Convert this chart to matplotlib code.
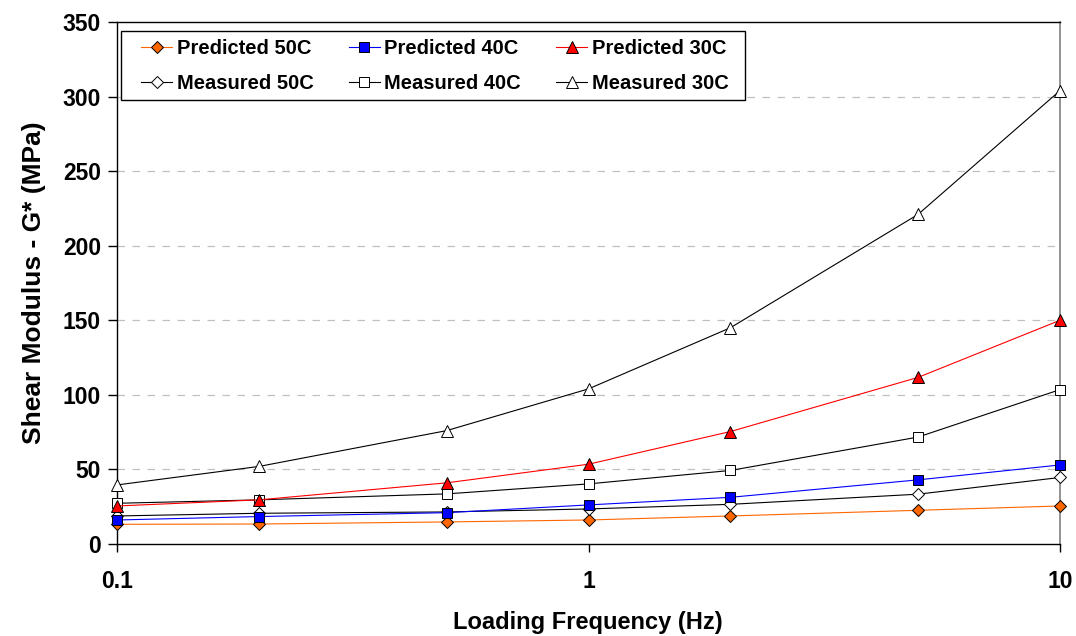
import matplotlib
matplotlib.use("Agg")
import matplotlib.pyplot as plt
from matplotlib.patches import Rectangle
from matplotlib.ticker import FixedLocator, NullLocator, FixedFormatter

# Loading frequencies (Hz)
freq = [0.1, 0.2, 0.5, 1, 2, 5, 10]

# Shear modulus G* (MPa)
predicted_50c = [13.2, 13.4, 14.8, 16.1, 18.8, 22.6, 25.5]
predicted_40c = [16.1, 18.4, 21.0, 26.2, 31.3, 43.0, 53.0]
predicted_30c = [25.5, 29.6, 41.0, 53.5, 75.4, 111.7, 150.0]
measured_50c = [18.8, 20.6, 21.5, 23.5, 26.6, 33.4, 44.6]
measured_40c = [27.3, 29.6, 33.6, 40.3, 49.3, 71.7, 103.5]
measured_30c = [39.6, 52.0, 76.0, 104.0, 145.0, 221.0, 304.0]

x_ticks = [0.1, 1, 10]
x_tick_labels = ["0.1", "1", "10"]
y_ticks = [0, 50, 100, 150, 200, 250, 300, 350]

plt.rcParams["font.family"] = ["Liberation Sans", "DejaVu Sans"]
plt.rcParams["font.weight"] = "bold"

W, H = 1076, 636
fig = plt.figure(figsize=(W / 100, H / 100), dpi=100)
ax = fig.add_axes([117 / W, 1 - 544 / H, 943 / W, 522 / H])

ax.set_xscale("log")
ax.set_xlim(0.1, 10)
ax.set_ylim(0, 350)

# dashed horizontal gridlines
for yv in y_ticks[1:-1]:
    ax.axhline(yv, color="#c0c0c0", lw=0.9, ls=(0, (6, 6)), zorder=0)

lw = 0.8
series = [
    (predicted_50c, "D", "#ff6600", "#ff6600", "Predicted 50C", 6.0),
    (measured_50c, "D", "#000000", "white", "Measured 50C", 6.0),
    (predicted_40c, "s", "#0000ff", "#0000ff", "Predicted 40C", 6.5),
    (measured_40c, "s", "#000000", "white", "Measured 40C", 7.0),
    (predicted_30c, "^", "#ff0000", "#ff0000", "Predicted 30C", 8.0),
    (measured_30c, "^", "#000000", "white", "Measured 30C", 8.5),
]
draw_order = [5, 3, 1, 4, 2, 0]
handles = {}
for i in draw_order:
    vals, mk, col, face, lab, ms = series[i]
    (h,) = ax.plot(freq, vals, color=col, lw=lw, marker=mk, ms=ms,
                   mfc=face, mec="black", mew=0.7, label=lab,
                   clip_on=False, zorder=3 + i * 0.1)
    handles[i] = h

ax.xaxis.set_major_locator(FixedLocator(x_ticks))
ax.xaxis.set_major_formatter(FixedFormatter(x_tick_labels))
ax.xaxis.set_minor_locator(NullLocator())
ax.set_yticks(y_ticks)

ax.tick_params(axis="x", direction="out", length=6, width=1, pad=13,
               labelsize=16.5)
ax.tick_params(axis="y", direction="out", length=6.5, width=1, pad=5,
               labelsize=16.5)
for lab in ax.get_xticklabels() + ax.get_yticklabels():
    lab.set_fontweight("bold")

for side in ["left", "bottom", "top"]:
    ax.spines[side].set_color("black")
    ax.spines[side].set_linewidth(1.0)
ax.spines["right"].set_color("#808080")
ax.spines["right"].set_linewidth(1.2)

# axis titles
fig.text(588 / W, 1 - 623 / H, "Loading Frequency (Hz)", fontsize=17,
         fontweight="bold", ha="center", va="center")
ax.set_ylabel("Shear Modulus - G* (MPa)", fontsize=19, fontweight="bold",
              labelpad=12)

# legend entries laid out in three columns, frame drawn separately
fs = 14.5
leg = ax.legend([handles[i] for i in range(6)],
                [series[i][4] for i in range(6)],
                ncol=3, loc="upper left",
                bbox_to_anchor=(141 / W, 1 - 39 / H),
                bbox_transform=fig.transFigure, borderaxespad=0,
                borderpad=0, prop={"weight": "bold", "size": fs},
                frameon=False, handlelength=1.55, handletextpad=0.22,
                columnspacing=1.75, labelspacing=0.78, markerscale=1.0)
leg.set_zorder(10)
frame = Rectangle((121 / W, 1 - 100 / H), (745 - 121) / W, 69 / H,
                  transform=fig.transFigure, facecolor="white",
                  edgecolor="black", lw=1.0, zorder=9)
fig.add_artist(frame)
fig.add_artist(leg)

fig.savefig("out.png", dpi=100)
